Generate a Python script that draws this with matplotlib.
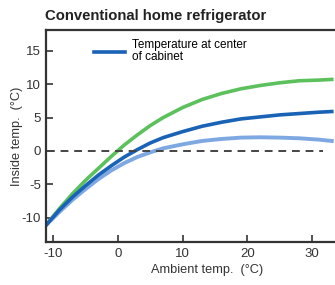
import matplotlib.pyplot as plt

plt.rcParams['font.family'] = ['Liberation Sans', 'DejaVu Sans']
plt.rcParams['axes.unicode_minus'] = False

# temperaturas ambiente (eixo X)
ambiente = [-11, -9, -7, -5, -3, -1, 1, 3, 5, 7, 10, 13, 16, 19, 22, 25, 28, 31, 33]
# curvas
verde = [-11, -8.6, -6.4, -4.4, -2.6, -0.8, 0.9, 2.4, 3.8, 5.0, 6.5, 7.7, 8.6, 9.3,
         9.8, 10.2, 10.5, 10.6, 10.7]
azul = [-11, -8.8, -6.9, -5.2, -3.6, -2.2, -0.9, 0.2, 1.2, 2.0, 2.9, 3.7, 4.3, 4.8,
        5.1, 5.4, 5.6, 5.8, 5.9]
azul_claro = [-11, -9.1, -7.3, -5.7, -4.2, -2.9, -1.8, -0.9, -0.2, 0.4, 1.0, 1.5,
              1.8, 2.0, 2.05, 2.0, 1.9, 1.7, 1.5]

titulo = "Conventional home refrigerator"
legenda = "Temperature at center\nof cabinet"
xticks = [-10, 0, 10, 20, 30]
yticks = [-10, -5, 0, 5, 10, 15]

fig = plt.figure(figsize=(3.35, 2.85), dpi=100)
ax = fig.add_axes([0.137, 0.151, 0.863, 0.744])

ax.plot(ambiente, verde, color="#5cc15c", linewidth=2.6, solid_joinstyle="round")
ax.plot(ambiente, azul_claro, color="#7ea8e2", linewidth=2.8, solid_joinstyle="round")
ax.plot(ambiente, azul, color="#1a62b5", linewidth=2.6, solid_joinstyle="round",
        label=legenda)
ax.plot([-11, 31.7], [0, 0], color="#444444", linewidth=1.4, linestyle=(0, (4, 3)))

ax.set_xlim(-11.1, 33.5)
ax.set_ylim(-13.6, 18.1)
ax.set_xticks(xticks)
ax.set_yticks(yticks)
ax.tick_params(direction="in", length=5, width=1.2, labelsize=9.5, colors="#333333")
ax.tick_params(axis="x", pad=4)

for lado in ["left", "bottom", "top"]:
    ax.spines[lado].set_linewidth(1.6)
    ax.spines[lado].set_color("#333333")
ax.spines["right"].set_visible(False)

ax.set_xlabel("Ambient temp.  (\u00b0C)", fontsize=9.2, color="#333333")
ax.xaxis.set_label_coords(0.557, -0.105)
ax.set_ylabel("Inside temp.  (\u00b0C)", fontsize=9.2, color="#333333")
ax.yaxis.set_label_coords(-0.08, 0.5)

fig.text(0.135, 0.945, titulo, fontsize=10.7, fontweight="bold", color="#222222",
         va="center")

ax.legend(loc="upper left", bbox_to_anchor=(0.135, 1.0), frameon=False,
          fontsize=8.5, handlelength=2.6, handletextpad=0.6, borderaxespad=0.4,
          labelspacing=0.2)
plt.setp(ax.get_legend().get_texts(), linespacing=1.0)

fig.savefig("out.png", dpi=100)
